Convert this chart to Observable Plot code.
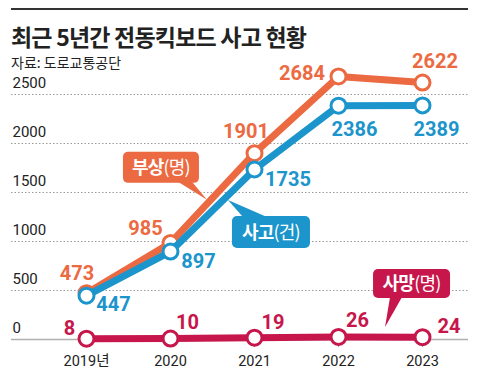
<!DOCTYPE html>
<html><head><meta charset="utf-8">
<script src="https://cdn.jsdelivr.net/npm/d3@7"></script>
<script src="https://cdn.jsdelivr.net/npm/@observablehq/plot@0.6"></script>
<style>
body{margin:0;background:#fff;}
#wrap{position:relative;width:483px;height:387px;overflow:hidden;background:#fff;}
.rule{position:absolute;left:11px;top:8px;width:457px;height:2px;background:#333;}
.title{position:absolute;left:11px;top:25px;font:700 23px/23px "Noto Sans CJK KR",sans-serif;letter-spacing:-0.8px;color:#222;white-space:nowrap;}
.sub{position:absolute;left:11px;top:55px;font:400 14px/14px "Noto Sans CJK KR",sans-serif;color:#222;white-space:nowrap;}
#chart{position:absolute;left:0;top:72px;}
</style></head>
<body>
<div id="wrap">
  <div class="rule"></div>
  <div class="title">최근 5년간 전동킥보드 사고 현황</div>
  <div class="sub">자료: 도로교통공단</div>
  <div id="chart"></div>
</div>
<script>
const years = [2019, 2020, 2021, 2022, 2023];
const xTickLabels = ["2019년", "2020", "2021", "2022", "2023"];
const yTicks = [0, 500, 1000, 1500, 2000, 2500];
const injuries = [473, 985, 1901, 2684, 2622];   // 부상(명)
const accidents = [447, 897, 1735, 2386, 2389];  // 사고(건)
const deaths = [8, 10, 19, 26, 24];              // 사망(명)
const seriesNames = [["부상", "(명)"], ["사고", "(건)"], ["사망", "(명)"]];

// styles / layout (kept apart from the values)
const colors = ["#ec6a42", "#1b95cb", "#c6164b"];
const labelOffsets = [
  [[-9.5, -20], [-25, -14.5], [-8.5, -22], [-36.5, -2.5], [12.5, -21]],
  [[27, 9], [28, 9.5], [33.5, 10], [16, 24], [14, 24.5]],
  [[-17, -10], [17, -15.5], [18.5, -15.5], [19, -16.5], [26.5, -11]]
];
const callouts = [
  {s: 0, tipX: 2020.44, tipY: 1420, dx: -46, dy: -32.5, w: 76, h: 31, side: "bottom", b0: 17, b1: 31},
  {s: 1, tipX: 2020.69, tipY: 1418, dx: 43, dy: 32, w: 78, h: 32, side: "top", b0: -28, b1: -4},
  {s: 2, tipX: 2022.56, tipY: 122, dx: 26.5, dy: -43.5, w: 77, h: 29, side: "bottom", b0: -21.5, b1: -9.5}
];

const seriesValues = [injuries, accidents, deaths];
const rows = seriesValues.map(vals => years.map((year, i) => ({year, value: vals[i]})));

function calloutMark(index, scales) {
  const g = d3.create("svg:g");
  callouts.forEach(c => {
    const tx = scales.x(c.tipX), ty = scales.y(c.tipY);
    const cx = tx + c.dx, cy = ty + c.dy;
    const x0 = cx - c.w / 2, y0 = cy - c.h / 2;
    const baseY = c.side === "bottom" ? y0 + c.h - 1 : y0 + 1;
    const col = colors[c.s];
    g.append("path")
      .attr("d", `M${cx + c.b0},${baseY}L${tx},${ty}L${cx + c.b1},${baseY}Z`)
      .attr("fill", col);
    g.append("rect").attr("x", x0).attr("y", y0).attr("width", c.w).attr("height", c.h)
      .attr("rx", 5).attr("fill", col);
    const t = g.append("text").attr("x", cx).attr("y", cy).attr("dy", "0.36em")
      .attr("text-anchor", "middle").attr("fill", "#fff")
      .attr("font-family", "'Noto Sans CJK KR', sans-serif").attr("font-size", 18)
      .attr("letter-spacing", "-0.8");
    t.append("tspan").attr("font-weight", 700).text(seriesNames[c.s][0]);
    t.append("tspan").attr("font-weight", 400).text(seriesNames[c.s][1]);
  });
  return g.node();
}

const marks = [
  Plot.ruleY(yTicks.filter(d => d > 0), {stroke: "#9a9a9a", strokeWidth: 1, strokeDasharray: "1.5,2", insetLeft: -75, insetRight: -46}),
  Plot.ruleY([0], {stroke: "#b0b0b0", strokeWidth: 1.5, insetLeft: -75, insetRight: -46}),
  Plot.text(yTicks, {y: d => d, frameAnchor: "left", dx: -74, dy: -11, textAnchor: "start", fontSize: 15, fill: "#222", text: d => String(d)}),
  Plot.axisX(years, {tickFormat: d => xTickLabels[years.indexOf(d)], tickSize: 8, tickPadding: 8, fontSize: 14.5, stroke: "#aaa", fill: "#222", label: null}),
];
// draw order: injuries, accidents on top, then deaths
[0, 1, 2].forEach(s => {
  marks.push(Plot.line(rows[s], {x: "year", y: "value", stroke: colors[s], strokeWidth: 7}));
  marks.push(Plot.dot(rows[s], {x: "year", y: "value", r: 7.5, fill: "#fff", stroke: colors[s], strokeWidth: 3}));
});
[0, 1, 2].forEach(s => {
  rows[s].forEach((d, i) => {
    marks.push(Plot.text([d], {x: "year", y: "value", text: v => String(v.value), dx: labelOffsets[s][i][0], dy: labelOffsets[s][i][1],
      fill: colors[s], fontSize: 20, fontWeight: 700, textAnchor: "middle"}));
  });
});
marks.push(calloutMark);

const chart = Plot.plot({
  width: 483, height: 315,
  marginLeft: 86, marginRight: 61, marginTop: 22, marginBottom: 48,
  x: {domain: [2019, 2023], axis: null},
  y: {domain: [0, 2500], axis: null},
  style: {overflow: "visible", background: "transparent", fontFamily: "Roboto, 'Noto Sans CJK KR', sans-serif"},
  marks
});
document.getElementById("chart").appendChild(chart);
</script>
</body></html>
